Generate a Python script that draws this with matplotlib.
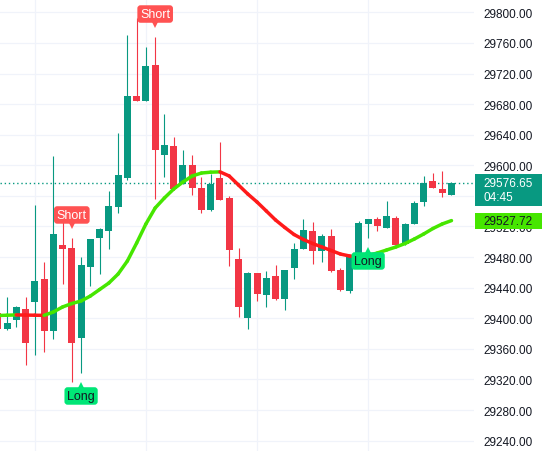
import matplotlib
matplotlib.use("Agg")
import matplotlib.pyplot as plt
from matplotlib.patches import Rectangle
from matplotlib.collections import LineCollection
import matplotlib.transforms as mtransforms
import numpy as np

# ---------------- data ----------------
opens = [29406.9, 29386.0, 29397.8, 29412.2, 29421.7, 29451.4, 29383.4, 29495.8, 29492.0, 29374.2,
         29467.1, 29505.0, 29514.1, 29545.9, 29583.4, 29690.6, 29684.4, 29731.1, 29613.5, 29625.2,
         29575.6, 29600.4, 29570.3, 29541.6, 29583.4, 29557.6, 29477.5, 29400.4, 29459.2, 29430.4,
         29455.3, 29425.2, 29465.7, 29490.6, 29514.1, 29488.0, 29507.6, 29463.1, 29435.7, 29480.0,
         29523.3, 29529.8, 29518.0, 29531.1, 29497.1, 29523.3, 29552.0, 29579.5, 29569.0, 29561.2]
highs = [29412.0, 29428.2, 29416.5, 29428.2, 29548.1, 29473.6, 29612.5, 29527.2, 29505.0, 29480.1,
         29503.7, 29518.4, 29566.8, 29642.2, 29770.7, 29792.5, 29754.6, 29767.7, 29667.1, 29637.4,
         29620.0, 29613.5, 29584.7, 29588.6, 29630.5, 29559.9, 29491.9, 29460.5, 29459.5, 29461.8,
         29469.7, 29463.5, 29498.4, 29529.8, 29525.9, 29510.2, 29516.7, 29465.7, 29482.0, 29527.2,
         29530.0, 29532.4, 29553.3, 29533.7, 29524.0, 29553.3, 29586.0, 29589.9, 29592.5, 29578.0]
lows = [29383.0, 29385.0, 29388.6, 29339.0, 29352.0, 29355.9, 29372.9, 29444.8, 29316.7, 29328.5,
        29442.2, 29457.9, 29490.6, 29538.0, 29581.0, 29684.0, 29684.0, 29556.3, 29585.1, 29568.0,
        29575.0, 29561.2, 29537.6, 29540.3, 29554.0, 29468.4, 29401.7, 29386.0, 29422.6, 29414.8,
        29423.9, 29410.8, 29451.4, 29490.0, 29471.0, 29473.6, 29461.0, 29436.0, 29433.1, 29477.0,
        29505.0, 29514.1, 29518.0, 29495.0, 29496.0, 29523.0, 29546.8, 29570.0, 29558.6, 29561.0]
closes = [29386.0, 29393.9, 29414.8, 29367.7, 29448.8, 29383.4, 29510.2, 29490.6, 29367.7, 29469.7,
          29503.7, 29516.7, 29547.2, 29587.3, 29690.6, 29684.4, 29729.8, 29620.0, 29626.5, 29569.0,
          29600.4, 29570.3, 29541.6, 29575.6, 29554.6, 29489.3, 29414.8, 29459.2, 29431.8, 29452.7,
          29425.2, 29463.1, 29490.6, 29515.4, 29488.0, 29507.6, 29461.8, 29437.0, 29481.4, 29524.6,
          29529.8, 29520.7, 29533.7, 29495.8, 29523.3, 29550.7, 29576.9, 29570.3, 29563.8, 29576.65]
ma = [29403.6, 29404.0, 29404.4, 29404.2, 29404.0, 29403.8, 29408.2, 29414.8, 29419.3, 29422.6,
      29429.1, 29437.6, 29446.1, 29457.9, 29474.9, 29498.4, 29523.3, 29544.2, 29557.3, 29569.0,
      29578.2, 29586.0, 29589.9, 29591.0, 29591.4, 29586.0, 29574.2, 29562.5, 29552.0, 29540.3,
      29528.5, 29518.7, 29509.5, 29503.0, 29497.8, 29493.2, 29488.6, 29484.0, 29481.4, 29480.1,
      29482.1, 29485.4, 29489.3, 29493.2, 29497.8, 29503.7, 29510.2, 29517.4, 29523.3, 29527.72]
short_signals = [8, 17]
long_signals = [9, 40]
last_price = 29576.65
ma_last = 29527.72
countdown = "04:45"
price_ticks = [29240, 29280, 29320, 29360, 29400, 29440, 29480, 29520,
               29560, 29600, 29640, 29680, 29720, 29760, 29800]
time_grid = [4, 16, 28, 40]

# ---------------- style ----------------
UP = "#089981"
DOWN = "#f23645"
MA_UP = "#46e600"
MA_DOWN = "#ff1a1a"
GRID = "#f0f3fa"
TXT = "#131722"
FONT = "Liberation Sans"

W, H = 542, 452
fig = plt.figure(figsize=(W / 100, H / 100), dpi=100)
fig.patch.set_facecolor("white")
plot_w = 474
ax = fig.add_axes([0, 0, plot_w / W, 1])
ax.set_facecolor("white")
ax.set_xlim(0.244, 51.43)
ax.set_ylim(29226.5, 29817.4)
ppx = (29817.4 - 29226.5) / H  # price units per pixel

for s in ax.spines.values():
    s.set_visible(False)
ax.set_yticks(price_ticks)
ax.set_yticklabels([f"{v:.2f}" for v in price_ticks])
ax.set_xticks(time_grid)
ax.set_xticklabels([])
ax.yaxis.tick_right()
ax.tick_params(axis="y", length=0, pad=6.5, labelsize=8.5, labelcolor=TXT)
ax.tick_params(axis="x", length=0)
for lab in ax.get_yticklabels():
    lab.set_fontfamily(FONT)
ax.grid(True, color=GRID, linewidth=0.9, zorder=0)
ax.set_axisbelow(True)

# last price dotted line
ax.axhline(last_price, color=UP, linewidth=1.0, linestyle=(0, (1, 2)), zorder=1.5)

# candles
n = len(opens)
xs = np.arange(n)
bw = 0.756
for i in range(n):
    o, h, l, c = opens[i], highs[i], lows[i], closes[i]
    col = UP if c >= o else DOWN
    ax.vlines(i, l, h, color=col, linewidth=0.8, zorder=2)
    bot = min(o, c)
    hgt = max(abs(c - o), ppx)
    ax.add_patch(Rectangle((i - bw / 2, bot), bw, hgt, facecolor=col,
                           edgecolor="none", zorder=2.5))

# moving average line coloured by slope
pts = np.column_stack([xs, ma])
segs = [pts[k:k + 2] for k in range(n - 1)]
cols = [MA_UP if ma[k + 1] >= ma[k] else MA_DOWN for k in range(n - 1)]
lc = LineCollection(segs, colors=cols, linewidths=2.5, capstyle="round",
                    joinstyle="round", zorder=3)
ax.add_collection(lc)

# signal labels
def offset(dy_px):
    return mtransforms.offset_copy(ax.transData, fig=fig, x=0, y=dy_px * 0.72, units="points")

for i in short_signals:
    ax.text(i, highs[i], "Short", transform=offset(23), ha="center", va="center",
            fontsize=9, color="white", family=FONT, zorder=6,
            bbox=dict(boxstyle="round,pad=0.22,rounding_size=0.25", fc="#ff5252", ec="none"))
    ax.plot([i], [highs[i]], marker="v", markersize=5, color="#ff5252",
            transform=offset(12), zorder=5.9, markeredgewidth=0)

for i in long_signals:
    ax.text(i, lows[i], "Long", transform=offset(-23), ha="center", va="center",
            fontsize=9, color=TXT, family=FONT, zorder=6,
            bbox=dict(boxstyle="round,pad=0.22,rounding_size=0.25", fc="#00e676", ec="none"))
    ax.plot([i], [lows[i]], marker="^", markersize=5, color="#00e676",
            transform=offset(-12), zorder=5.9, markeredgewidth=0)

# price tags on the right scale
blend = mtransforms.blended_transform_factory(ax.transAxes, ax.transData)
x0 = 1.0 + 1 / plot_w
wbox = (W - plot_w) / plot_w
ax.add_patch(Rectangle((x0, last_price - 23 * ppx), wbox, 32 * ppx, transform=blend,
                       facecolor=UP, edgecolor="none", clip_on=False, zorder=7))
tx = 1.0 + 9 / plot_w
ax.text(tx, last_price, f"{last_price:.2f}", transform=blend, ha="left", va="center",
        fontsize=8.5, color="white", family=FONT, clip_on=False, zorder=8)
ax.text(tx, last_price - 14 * ppx, countdown, transform=blend, ha="left", va="center",
        fontsize=8.5, color="white", family=FONT, clip_on=False, zorder=8)
ax.add_patch(Rectangle((x0, ma_last - 8 * ppx), wbox, 16 * ppx, transform=blend,
                       facecolor=MA_UP, edgecolor="none", clip_on=False, zorder=7))
ax.text(tx, ma_last, f"{ma_last:.2f}", transform=blend, ha="left", va="center",
        fontsize=8.5, color=TXT, family=FONT, clip_on=False, zorder=8)

fig.savefig("out.png", dpi=100, facecolor="white")
